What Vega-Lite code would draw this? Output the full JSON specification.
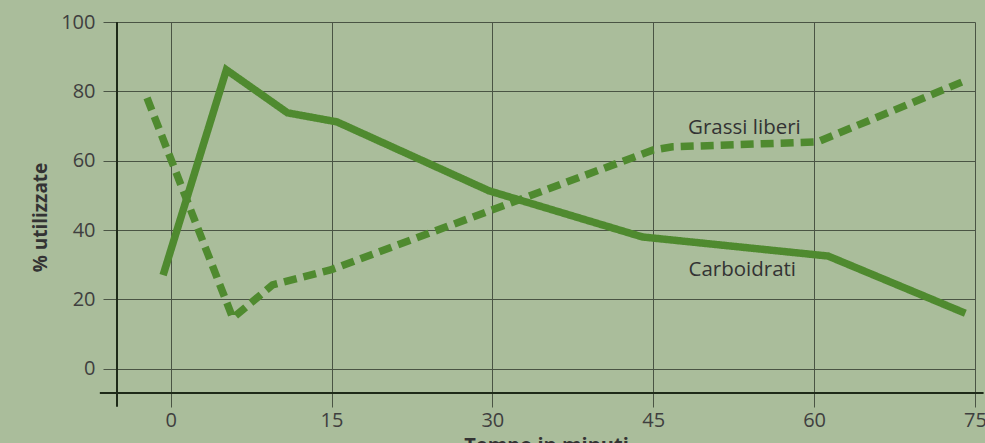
{
  "$schema": "https://vega.github.io/schema/vega-lite/v6.json",
  "width": 858,
  "height": 371,
  "autosize": {"type": "none"},
  "padding": {"left": 117, "top": 22, "right": 10, "bottom": 50},
  "background": "#aabd9b",
  "config": {"view": {"stroke": null}, "font": "Open Sans"},
  "datasets": {
    "serie": [
      {"serie": "Carboidrati", "min": -0.7, "pct": 27.0},
      {"serie": "Carboidrati", "min": 5.2, "pct": 86.2},
      {"serie": "Carboidrati", "min": 10.9, "pct": 73.8},
      {"serie": "Carboidrati", "min": 15.5, "pct": 71.2},
      {"serie": "Carboidrati", "min": 29.7, "pct": 51.3},
      {"serie": "Carboidrati", "min": 44.0, "pct": 38.0},
      {"serie": "Carboidrati", "min": 61.3, "pct": 32.5},
      {"serie": "Carboidrati", "min": 74.1, "pct": 16.0},
      {"serie": "Grassi liberi", "min": -2.2, "pct": 78.1},
      {"serie": "Grassi liberi", "min": 5.8, "pct": 14.6},
      {"serie": "Grassi liberi", "min": 9.5, "pct": 24.2},
      {"serie": "Grassi liberi", "min": 14.9, "pct": 28.5},
      {"serie": "Grassi liberi", "min": 45.0, "pct": 63.1},
      {"serie": "Grassi liberi", "min": 46.8, "pct": 64.0},
      {"serie": "Grassi liberi", "min": 60.3, "pct": 65.4},
      {"serie": "Grassi liberi", "min": 73.8, "pct": 82.7}
    ],
    "assi": [
      {"x": -6.6, "x2": 75.8, "y": -7, "y2": -7},
      {"x": -5, "x2": -5, "y": -11, "y2": 100}
    ],
    "etichette": [
      {"testo": "Grassi liberi", "min": 53.5, "pct": 69.4},
      {"testo": "Carboidrati", "min": 53.3, "pct": 28.5}
    ]
  },
  "layer": [
    {
      "data": {"name": "serie"},
      "mark": {"type": "line", "strokeWidth": 7.5, "strokeCap": "butt", "strokeJoin": "miter", "color": "#4f8a2f"},
      "encoding": {
        "x": {
          "field": "min", "type": "quantitative",
          "scale": {"domain": [-5, 75], "nice": false, "zero": false},
          "axis": {
            "values": [0, 15, 30, 45, 60, 75],
            "grid": true, "gridColor": "#4a5444", "gridWidth": 1,
            "domain": false,
            "ticks": true, "tickSize": 14, "tickColor": "#4a5444", "tickWidth": 1,
            "labelFontSize": 20, "labelColor": "#3f3f3f", "labelPadding": 3, "labelFont": "Open Sans",
            "labelFlush": false, "labelOverlap": false, "labelBound": false,
            "title": "Tempo in minuti", "titleFontSize": 20, "titleFontWeight": "bold", "titleColor": "#333",
            "titleBaseline": "top", "titleY": 42
          }
        },
        "y": {
          "field": "pct", "type": "quantitative",
          "scale": {"domain": [-7, 100], "nice": false, "zero": false},
          "axis": {
            "values": [0, 20, 40, 60, 80, 100],
            "grid": true, "gridColor": "#4a5444", "gridWidth": 1,
            "domain": false,
            "ticks": true, "tickSize": 14, "tickColor": "#4a5444", "tickWidth": 1,
            "labelFontSize": 20, "labelColor": "#3f3f3f", "labelPadding": 8, "labelFont": "Open Sans",
            "labelFlush": false, "labelOverlap": false, "labelBound": false,
            "title": "% utilizzate", "titleFontSize": 19, "titleFontWeight": "bold", "titleColor": "#333",
            "titleX": -77, "titleY": 195, "titleBaseline": "middle", "titleAngle": -90
          }
        },
        "detail": {"field": "serie"},
        "strokeDash": {
          "field": "serie", "type": "nominal",
          "scale": {"domain": ["Carboidrati", "Grassi liberi"], "range": [[1, 0], [13, 7]]},
          "legend": null
        }
      }
    },
    {
      "data": {"name": "assi"},
      "mark": {"type": "rule", "color": "#1e2a18", "strokeWidth": 2},
      "encoding": {
        "x": {"field": "x", "type": "quantitative"},
        "x2": {"field": "x2"},
        "y": {"field": "y", "type": "quantitative"},
        "y2": {"field": "y2"}
      }
    },
    {
      "data": {"name": "etichette"},
      "mark": {"type": "text", "fontSize": 20.5, "color": "#333", "font": "Open Sans", "align": "center", "baseline": "middle"},
      "encoding": {
        "x": {"field": "min", "type": "quantitative"},
        "y": {"field": "pct", "type": "quantitative"},
        "text": {"field": "testo"}
      }
    }
  ]
}
